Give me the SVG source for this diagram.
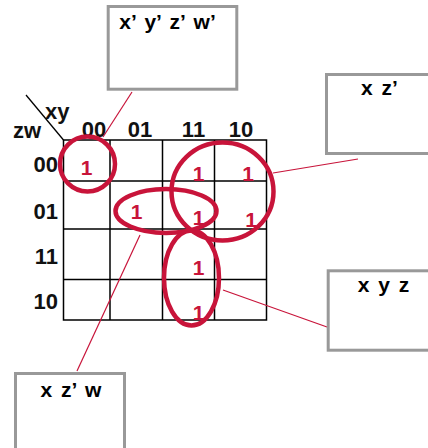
<svg xmlns="http://www.w3.org/2000/svg" width="428" height="448" viewBox="0 0 428 448">
<style>
.bg{fill:#fff}
.grid{stroke:#000;stroke-width:1.5;fill:none}
.lab{font-family:"Liberation Sans",Arial,sans-serif;font-weight:bold;font-size:22px;fill:#111}
.one{font-family:"Liberation Sans",Arial,sans-serif;font-weight:bold;font-size:21px;fill:#C8143A;text-anchor:middle}
.loop{fill:none;stroke:#C8143A;stroke-width:4.5}
.box{fill:#fff;stroke:#999;stroke-width:3}
.btxt{font-family:"Liberation Sans",Arial,sans-serif;font-weight:bold;font-size:21px;fill:#000;text-anchor:middle;word-spacing:3px}
.conn{stroke:#C8143A;stroke-width:1.2;fill:none}
</style>
<rect class="bg" x="0" y="0" width="428" height="448"/>
<g id="kmap">
<path class="grid" d="M63.5 140H266.5V320H63.5Z M110 140V320 M162.5 140V320 M214.5 140V320 M63.5 181H266.5 M63.5 229H266.5 M63.5 279.5H266.5"/>
<line x1="26" y1="95" x2="63.5" y2="140" stroke="#000" stroke-width="1.3"/>
<text class="lab" x="13" y="138">zw</text>
<text class="lab" x="45" y="119">xy</text>
<g text-anchor="middle">
<text class="lab" x="94" y="137">00</text>
<text class="lab" x="140" y="137">01</text>
<text class="lab" x="193.5" y="137">11</text>
<text class="lab" x="241" y="137">10</text>
</g>
<g text-anchor="end">
<text class="lab" x="58" y="172">00</text>
<text class="lab" x="58" y="219">01</text>
<text class="lab" x="58" y="264">11</text>
<text class="lab" x="58" y="309">10</text>
</g>
<text class="one" x="86.5" y="175">1</text>
<text class="one" x="198.5" y="181">1</text>
<text class="one" x="248" y="181">1</text>
<text class="one" x="136.5" y="219">1</text>
<text class="one" x="198.5" y="225">1</text>
<text class="one" x="251" y="227">1</text>
<text class="one" x="198.5" y="275">1</text>
<text class="one" x="198.5" y="320">1</text>
</g>
<g id="loops">
<circle class="loop" cx="87.5" cy="164" r="27.5"/>
<ellipse class="loop" cx="222.5" cy="191.5" rx="51" ry="49"/>
<ellipse class="loop" cx="166" cy="211" rx="50.5" ry="22"/>
<ellipse class="loop" cx="191.5" cy="278" rx="27.5" ry="47.5"/>
</g>
<g id="connectors">
<line class="conn" x1="132" y1="92" x2="103" y2="137"/>
<line class="conn" x1="358" y1="159" x2="273" y2="173"/>
<line class="conn" x1="140" y1="235" x2="77" y2="371"/>
<line class="conn" x1="223" y1="290" x2="327" y2="327"/>
</g>
<g id="box-xyzw">
<rect class="box" x="108.2" y="6.5" width="128.6" height="82.7"/>
<text class="btxt" x="167.5" y="29">x’ y’ z’ w’</text>
</g>
<g id="box-xz">
<rect class="box" x="326.5" y="74.5" width="120" height="79"/>
<text class="btxt" x="379.5" y="95">x z’</text>
</g>
<g id="box-xyz">
<rect class="box" x="328.2" y="270.8" width="120" height="79.4"/>
<text class="btxt" x="383.5" y="292">x y z</text>
</g>
<g id="box-xzw">
<rect class="box" x="15.5" y="373.5" width="109" height="90"/>
<text class="btxt" x="71" y="397">x z’ w</text>
</g>
</svg>
